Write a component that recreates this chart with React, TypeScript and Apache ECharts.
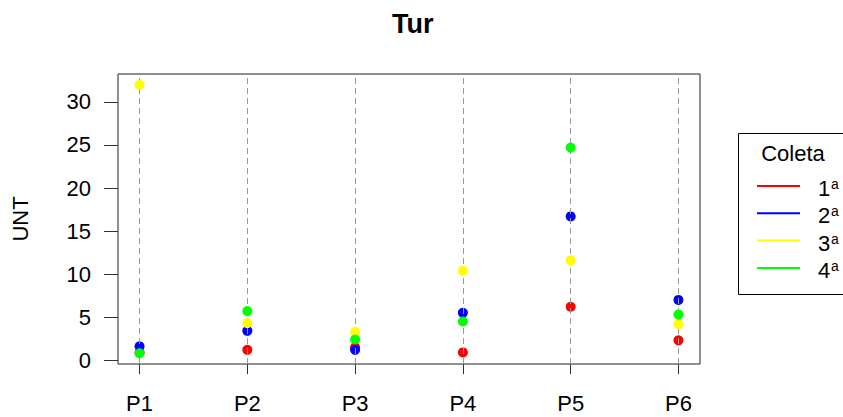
import React, { useEffect, useRef } from "react";
import * as echarts from "echarts";

const categories = ["P1", "P2", "P3", "P4", "P5", "P6"];
const seriesNames = ["1ª", "2ª", "3ª", "4ª"];
const seriesDigits = ["1", "2", "3", "4"];
const coleta1 = [0.9, 1.2, 1.5, 0.9, 6.2, 2.3];
const coleta2 = [1.6, 3.4, 1.2, 5.5, 16.7, 7.0];
const coleta3 = [32.0, 4.3, 3.3, 10.4, 11.6, 4.2];
const coleta4 = [0.8, 5.7, 2.4, 4.5, 24.7, 5.3];
const yTicks = [0, 5, 10, 15, 20, 25, 30];
const colors = ["#FF0000", "#0000FF", "#FFFF00", "#00FF00"];

const FONT = "Liberation Sans, Arial, sans-serif";

export default function App() {
  const ref = useRef<HTMLDivElement>(null);
  useEffect(() => {
    if (!ref.current) return;
    const chart = echarts.init(ref.current, null, { renderer: "svg" });
    const all = [coleta1, coleta2, coleta3, coleta4];
    const xVals = categories.map((_, i) => i + 1);

    const legendGraphics: any[] = [
      {
        type: "rect",
        shape: { x: 738.5, y: 133.5, width: 130, height: 161 },
        style: { fill: "#fff", stroke: "#000", lineWidth: 1 },
        z: 10,
      },
      {
        type: "text",
        x: 793,
        y: 153,
        style: {
          text: "Coleta",
          font: `22px ${FONT}`,
          fill: "#000",
          align: "center",
          verticalAlign: "middle",
        },
        z: 11,
      },
    ];
    seriesNames.forEach((_, i) => {
      const y = 186 + i * 27.3;
      legendGraphics.push({
        type: "line",
        shape: { x1: 757, y1: y, x2: 800, y2: y },
        style: { stroke: colors[i], lineWidth: 2 },
        z: 11,
      });
      legendGraphics.push({
        type: "text",
        x: 818,
        y: y + 2.5,
        style: {
          text: seriesDigits[i],
          font: `22px ${FONT}`,
          fill: "#000",
          align: "left",
          verticalAlign: "middle",
        },
        z: 11,
      });
      legendGraphics.push({
        type: "text",
        x: 831,
        y: y - 9,
        style: {
          text: "a",
          font: `14px ${FONT}`,
          fill: "#000",
          align: "left",
          verticalAlign: "top",
        },
        z: 11,
      });
    });

    const option: any = {
      animation: false,
      backgroundColor: "#fff",
      title: {
        text: "Tur",
        left: 387,
        top: 5,
        textStyle: { fontFamily: FONT, fontSize: 27, fontWeight: "bold", color: "#000" },
      },
      grid: {
        left: 118,
        right: 143,
        top: 74,
        bottom: 53,
        show: true,
        borderColor: "#222",
        borderWidth: 1,
        backgroundColor: "transparent",
      },
      xAxis: {
        type: "value",
        min: 0.8,
        max: 6.2,
        axisLine: { show: false },
        splitLine: { show: false },
        axisTick: {
          show: true,
          length: 14,
          customValues: xVals,
          lineStyle: { color: "#333", width: 1 },
        },
        axisLabel: {
          customValues: xVals,
          margin: 28,
          fontFamily: FONT,
          fontSize: 22,
          color: "#000",
          formatter: (v: number) => categories[Math.round(v) - 1] ?? "",
        },
      },
      yAxis: {
        type: "value",
        min: -0.45,
        max: 33.25,
        name: "UNT",
        nameLocation: "middle",
        nameRotate: 90,
        nameGap: 87,
        nameTextStyle: { fontFamily: FONT, fontSize: 22, color: "#000" },
        axisLine: { show: false },
        splitLine: { show: false },
        axisTick: {
          show: true,
          length: 14,
          customValues: yTicks,
          lineStyle: { color: "#333", width: 1 },
        },
        axisLabel: {
          customValues: yTicks,
          margin: 27,
          fontFamily: FONT,
          fontSize: 22,
          color: "#000",
        },
      },
      series: [
        {
          type: "scatter",
          name: "guides",
          data: [],
          z: 1,
          silent: true,
          markLine: {
            silent: true,
            symbol: "none",
            label: { show: false },
            lineStyle: { color: "#999", type: [6, 4], width: 1 },
            data: xVals.map((x) => ({ xAxis: x })),
          },
        },
        ...all.map((vals, si) => ({
          type: "scatter",
          name: seriesNames[si],
          symbol: "circle",
          symbolSize: 10,
          z: 3 + si,
          itemStyle: { color: colors[si], opacity: 1 },
          data: vals.map((v, i) => [xVals[i], v]),
        })),
      ],
      graphic: legendGraphics,
    };
    chart.setOption(option);
    return () => chart.dispose();
  }, []);
  return (
    <div
      ref={ref}
      style={{ position: "fixed", left: 0, top: 0, width: 843, height: 417, background: "#fff" }}
    />
  );
}
